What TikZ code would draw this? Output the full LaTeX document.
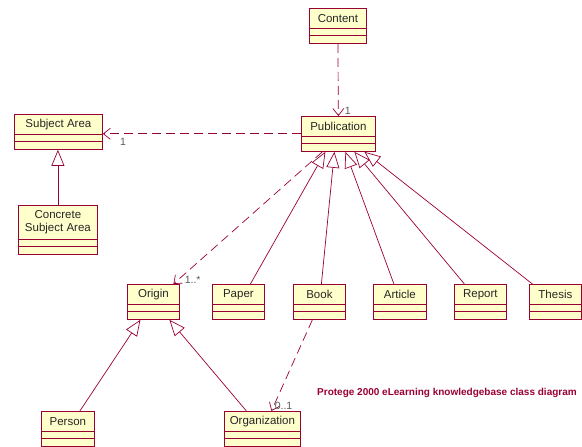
\documentclass[tikz,border=0pt]{standalone}
\usepackage{fontspec}
\setmainfont{Liberation Sans}
\usepackage{tikz}
\usetikzlibrary{arrows.meta}
\definecolor{umlred}{RGB}{153,0,51}
\definecolor{umlyellow}{RGB}{255,255,204}
\begin{document}
\begin{tikzpicture}[x=1pt, y=-1pt, line width=0.8pt,
  class/.style={draw=umlred, fill=umlyellow, inner sep=0pt, minimum height=20pt,
    anchor=north west, font=\fontsize{11.5}{12.5}\selectfont, text=black!85},
  dep/.style={umlred, line width=0.7pt, dash pattern=on 9pt off 5pt,
    -{Straight Barb[length=7pt, width=11pt]}},
  gen/.style={umlred, line width=0.7pt, -{Triangle[open, length=16pt, width=13pt]}},
  mult/.style={font=\fontsize{10.5}{12}\selectfont, text=black!65, inner sep=1pt}]

\useasboundingbox (0, 0) rectangle (582, 447);

% draw class names
\node[class, minimum width=57pt] (content) at (309, 8) {Content};
\node[class, minimum width=74pt] (pub) at (301, 116) {Publication};
\node[class, minimum width=88pt] (subj) at (14, 114) {Subject Area};
\node[class, minimum width=79pt, minimum height=34pt, align=center] (concrete) at (18, 205) {Concrete\\Subject Area};
\node[class, minimum width=52pt] (origin) at (127, 284) {Origin};
\node[class, minimum width=52pt] (paper) at (212, 284) {Paper};
\node[class, minimum width=52pt] (book) at (293, 284) {Book};
\node[class, minimum width=53pt] (article) at (373, 284) {Article};
\node[class, minimum width=52pt] (report) at (454, 284) {Report};
\node[class, minimum width=52pt] (thesis) at (529, 284) {Thesis};
\node[class, minimum width=53pt] (person) at (41, 411) {Person};
\node[class, minimum width=76pt] (org) at (224, 411) {Organization};

% draw empty compartments
\foreach \c in {content, pub, subj, concrete, origin, paper, book, article, report, thesis, person, org} {
  \draw[color=umlred, fill=umlyellow] (\c.south west) rectangle ([yshift=-15pt]\c.south east);
  \draw[color=umlred] ([yshift=-7pt]\c.south west) -- ([yshift=-7pt]\c.south east);
  \coordinate (\c-b) at ([yshift=-15pt]\c.south);
}

% draw dependencies
\draw[dep] (content-b) -- (pub.north) node[mult, at end, anchor=south west, xshift=5pt] {1};
\draw[dep] ([yshift=3pt]pub.south west) -- ([yshift=3pt]pub.south west -| subj.east)
  node[mult, at end, anchor=north west, xshift=16pt, yshift=-3pt] {1};
\draw[dep] ([xshift=-16pt]pub-b) -- ([xshift=20pt]origin.north)
  node[mult, at end, anchor=south west, xshift=10pt, yshift=-1pt] {1..*};
\draw[dep] ([xshift=-7pt]book-b) -- ([xshift=9pt]org.north)
  node[mult, at end, anchor=south west, xshift=2pt] {0..1};

% draw generalizations
\foreach \c/\a/\b in {paper/12/-13, book/2/-4, article/-6/7, report/-16/16, thesis/-23/26}
  \draw[gen] ([xshift=\a pt]\c.north) -- ([xshift=\b pt]pub-b);
\draw[gen] (concrete.north) -- (concrete.north |- subj-b);
\draw[gen] ([xshift=12pt]person.north) -- ([xshift=-13pt]origin-b);
\draw[gen] ([xshift=-16pt]org.north) -- ([xshift=16pt]origin-b);

% draw caption
\node[font=\bfseries\fontsize{10}{12}\selectfont, text=umlred] (caption) at (447, 393)
  {Protege 2000 eLearning knowledgebase class diagram};

\end{tikzpicture}
\end{document}
